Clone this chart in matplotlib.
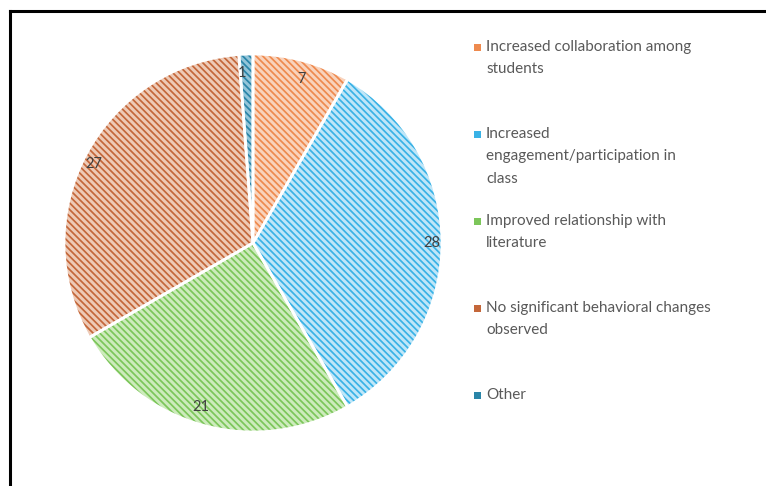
import matplotlib
matplotlib.use("Agg")
import matplotlib.pyplot as plt
from matplotlib.lines import Line2D
from matplotlib.patches import Rectangle

categories = [
    "Increased collaboration among\nstudents",
    "Increased\nengagement/participation in\nclass",
    "Improved relationship with\nliterature",
    "No significant behavioral changes\nobserved",
    "Other",
]
counts = [7, 28, 21, 27, 1]

# stripe colour and pale fill for each slice
hatch_colors = ["#EE8A4E", "#39B2E6", "#7CC65A", "#C4673A", "#2A85A8"]
fill_colors = ["#F9D3BC", "#BFE6F8", "#CDEBBC", "#EECAB6", "#93C5D9"]

plt.rcParams["font.family"] = ["Lato", "DejaVu Sans"]
plt.rcParams["hatch.linewidth"] = 1.25

fig = plt.figure(figsize=(7.66, 4.86), dpi=100)
W, H = 766, 486
cx, cy, r = 253, 243, 189
ax = fig.add_axes([(cx - r) / W, (H - cy - r) / H, 2 * r / W, 2 * r / H])

wedges, texts = ax.pie(counts, startangle=90, counterclock=False,
                       labels=[str(c) for c in counts], labeldistance=0.9,
                       textprops=dict(color="#404040", fontsize=10.5))
for w, hc, fc in zip(wedges, hatch_colors, fill_colors):
    w.set_facecolor(fc)
    w.set_edgecolor(hc)
    w.set_hatch("\\" * 5)
    w.set_linewidth(0)
# white separators on top of the hatched slices
ax.pie(counts, startangle=90, counterclock=False,
       wedgeprops=dict(fill=False, edgecolor="white", linewidth=2))
ax.set_xlim(-1, 1)
ax.set_ylim(-1, 1)
ax.set_aspect("equal")
ax.axis("off")

# legend on the right, one slot per category
for i, (lab, hc) in enumerate(zip(categories, hatch_colors)):
    y = 47 + i * 87
    fig.patches.append(Rectangle((474 / W, 1 - (y + 4) / H), 7 / W, 7 / H,
                                 transform=fig.transFigure, facecolor=hc,
                                 edgecolor="none"))
    fig.text(486 / W, 1 - (y - 7) / H, lab, fontsize=11, color="#595959",
             va="top", ha="left", linespacing=1.76)

# frame lines along the top and left
fig.add_artist(Line2D([10 / W, 1], [1 - 11 / H, 1 - 11 / H], color="black",
                      linewidth=2.2, transform=fig.transFigure))
fig.add_artist(Line2D([10 / W, 10 / W], [0, 1 - 11 / H], color="black",
                      linewidth=2.2, transform=fig.transFigure))

fig.savefig("out.png", dpi=100)
